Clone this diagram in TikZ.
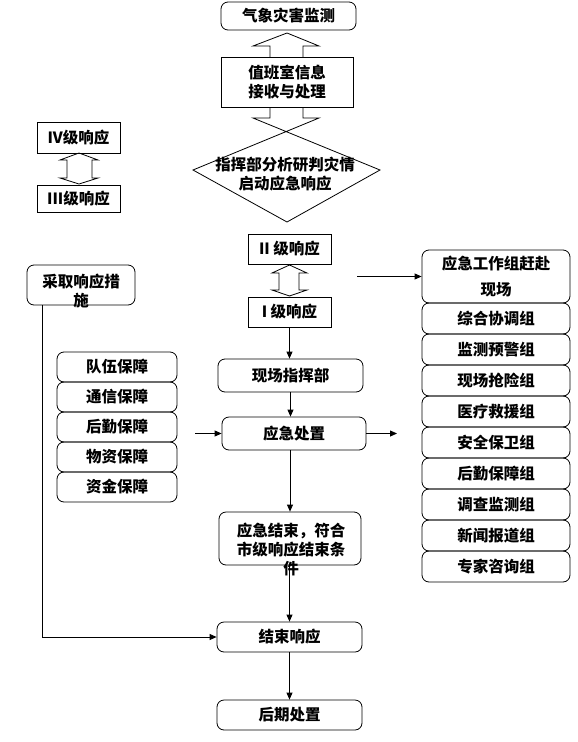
\documentclass[tikz,border=0pt]{standalone}
\usepackage{fontspec}
\setmainfont{Noto Sans CJK SC}
\usetikzlibrary{arrows.meta,calc}

\newcommand\boxfont{\fontsize{15.5}{19}\selectfont\bfseries}

\begin{document}
\begin{tikzpicture}[x=1pt,y=-1pt,line width=0.8pt,
    box/.style={draw, inner sep=0pt, align=center, font=\boxfont},
    rbox/.style={box, rounded corners=7pt},
    txt/.style={inner sep=0pt, align=center, font=\boxfont},
    arr/.style={-{Triangle[length=7pt,width=6pt]}}]
    \useasboundingbox (0,0) rectangle (578,742);

    % main column
    \node[rbox, minimum width=135pt, minimum height=28pt] (monitor) at (288.5,16) {气象灾害监测};
    \node[box, minimum width=132pt, minimum height=50pt] (duty) at (287,82) {值班室信息\\接收与处理};
    \draw (270,57) -- (270,46) -- (253,46) -- (287,33) -- (319,46) -- (303,46) -- (303,57);
    \draw (270,107) -- (270,118) -- (253,118) -- (380,170) -- (287,222) -- (193,170) -- (319,118) -- (303,118) -- (303,107);
    \node[txt] (judge) at (285,174) {指挥部分析研判灾情\\启动应急响应};

    % level IV / III
    \node[box, minimum width=83pt, minimum height=31pt] (lvfour) at (78.5,137.5) {IV级响应};
    \node[box, minimum width=83pt, minimum height=27pt] (lvthree) at (78.5,198.5) {III级响应};
    \draw (67,160) -- (60,160) -- (79,153) -- (98,160) -- (92,160) -- (92,178) -- (98,178) -- (79,184) -- (60,178) -- (67,178) -- cycle;

    % level II / I
    \node[box, minimum width=83pt, minimum height=30pt] (lvtwo) at (289.5,249) {II 级响应};
    \node[box, minimum width=83pt, minimum height=30pt] (lvone) at (289.5,312) {I 级响应};
    \draw (279,273) -- (272,273) -- (289.5,265) -- (307,273) -- (299,273) -- (299,290) -- (307,290) -- (289.5,296) -- (272,290) -- (279,290) -- cycle;

    \node[rbox, minimum width=145pt, minimum height=33pt] (site) at (290.5,375.5) {现场指挥部};
    \node[rbox, minimum width=144pt, minimum height=33pt] (dispose) at (294,433.5) {应急处置};
    \node[rbox, minimum width=142pt, minimum height=53pt] (endc) at (290,538.5) {};
    \node[txt] (endtext) at (291,549) {应急结束，符合\\市级响应结束条\\件};
    \node[rbox, minimum width=145pt, minimum height=30pt] (finish) at (289.5,637) {结束响应};
    \node[rbox, minimum width=145pt, minimum height=30pt] (later) at (289.5,715) {后期处置};

    \draw[arr] (lvone.south) -- (lvone.south |- site.north);
    \draw[arr] (site.south) -- (site.south |- dispose.north);
    \draw[arr] (dispose.south -| endc.north) -- (endc.north);
    \draw[arr] (endc.south -| finish.north) -- (finish.north);
    \draw[arr] (finish.south) -- (later.north);

    % left side
    \node[rbox, minimum width=108pt, minimum height=40pt] (measures) at (81,285) {};
    \node[txt] (meastext) at (81,291) {采取响应措\\施};
    \draw[arr] (measures.south west) ++(16,0) |- (finish.west);

    \foreach \t [count=\i from 0] in {队伍保障,通信保障,后勤保障,物资保障,资金保障}
        \node[rbox, minimum width=120pt, minimum height=30pt] (guard\i) at (117,367+30*\i) {\t};
    \coordinate (gin) at (195,433.5);
    \draw[arr] (gin) -- (dispose.west);
    \coordinate (gout) at (397,433.5);
    \draw[arr] (dispose.east) -- (gout);

    % right side
    \node[rbox, minimum width=148pt, minimum height=53pt, font=\fontsize{15.5}{26}\selectfont\bfseries] (team) at (496,276.5) {应急工作组赶赴\\现场};
    \coordinate (tin) at (357,276.5);
    \draw[arr] (tin) -- (team.west);
    \foreach \t [count=\i from 0] in {综合协调组,监测预警组,现场抢险组,医疗救援组,安全保卫组,后勤保障组,调查监测组,新闻报道组,专家咨询组}
        \node[rbox, minimum width=148pt, minimum height=31pt] (grp\i) at (496,318.5+31*\i) {\t};
\end{tikzpicture}
\end{document}
